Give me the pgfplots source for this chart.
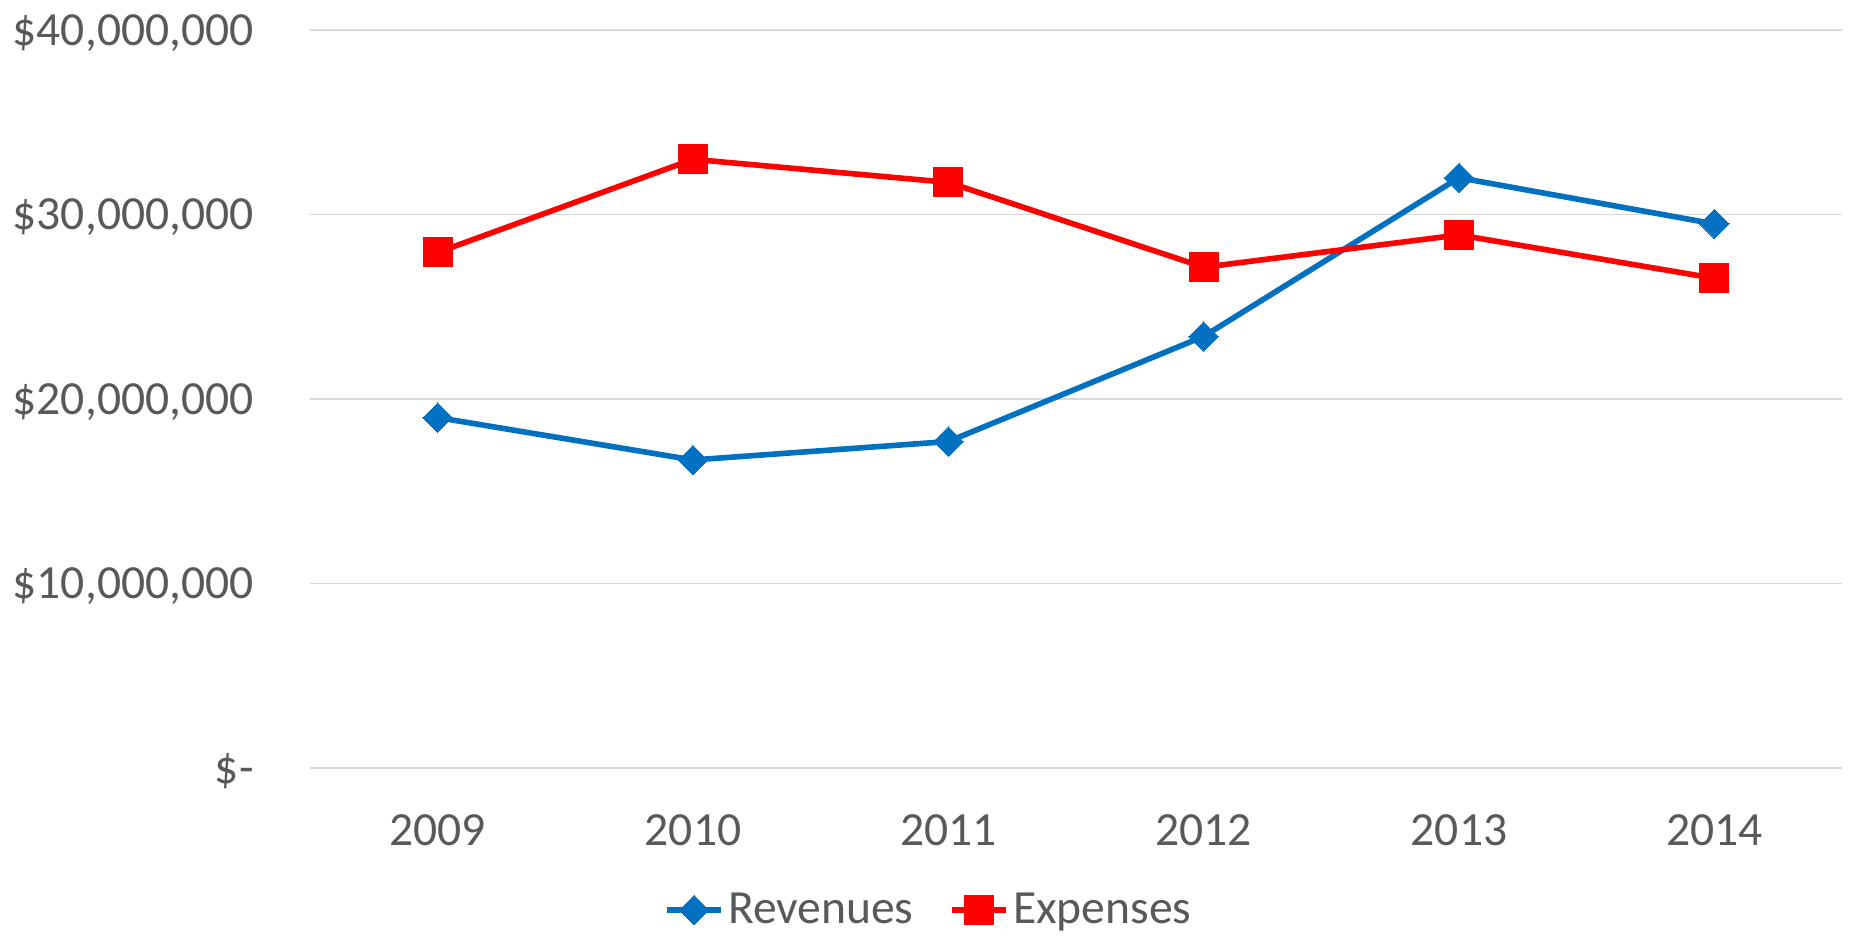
\documentclass[border=0pt]{standalone}
\usepackage{fontspec}
\setmainfont{Carlito}
\usepackage{pgfplots}
\pgfplotsset{compat=1.18}
\definecolor{revblue}{HTML}{0070C0}
\definecolor{expred}{HTML}{FF0000}
\definecolor{txtgray}{HTML}{595959}
\definecolor{gridgray}{HTML}{D9D9D9}
\newcommand{\chartfont}{\fontsize{23.8}{28}\selectfont}
\begin{document}
\begin{tikzpicture}
\useasboundingbox (-155pt,-84pt) rectangle (770.5pt,384pt);
\begin{axis}[
  scale only axis,
  width=766pt, height=368.9pt,
  xmin=-0.5, xmax=5.5,
  ymin=0, ymax=40000000,
  scaled y ticks=false,
  xtick={0,1,2,3,4,5},
  xticklabels={2009,2010,2011,2012,2013,2014},
  ytick={0,10000000,20000000,30000000,40000000},
  yticklabels={{\$-\hspace{11pt}},{\$10,000,000},{\$20,000,000},{\$30,000,000},{\$40,000,000}},
  axis line style={draw=none},
  major tick style={draw=none},
  ymajorgrids,
  grid style={draw=gridgray, line width=0.8pt},
  tick label style={font=\chartfont, text=txtgray},
  yticklabel style={anchor=base east, inner sep=0pt, xshift=-28pt, yshift=-7.5pt},
  xticklabel style={anchor=base, inner sep=0pt, yshift=-38.5pt},
  clip=false,
  legend columns=2,
  legend style={at={(0.4047,0)}, anchor=center, yshift=-71pt,
    draw=none, fill=none, font=\chartfont, text=txtgray,
    /tikz/every even column/.append style={column sep=16pt},
    nodes={inner sep=2pt}},
  legend image code/.code={%
    \draw[mark repeat=2, mark phase=2] plot coordinates {(0pt,0pt) (13.5pt,0pt) (27pt,0pt)};},
]
\addplot[revblue, line width=2.8pt, mark=square*, mark size=5.2pt,
  mark options={solid, rotate=45, fill=revblue, draw=revblue, line width=0pt}]
  coordinates {(0,19000000) (1,16700000) (2,17700000) (3,23400000) (4,32000000) (5,29500000)};
\addlegendentry{Revenues}
\addplot[expred, line width=2.8pt, mark=square*, mark size=7.25pt,
  mark options={solid, fill=expred, draw=expred, line width=0pt}]
  coordinates {(0,27950000) (1,33000000) (2,31750000) (3,27150000) (4,28900000) (5,26550000)};
\addlegendentry{Expenses}
\end{axis}
\end{tikzpicture}
\end{document}
